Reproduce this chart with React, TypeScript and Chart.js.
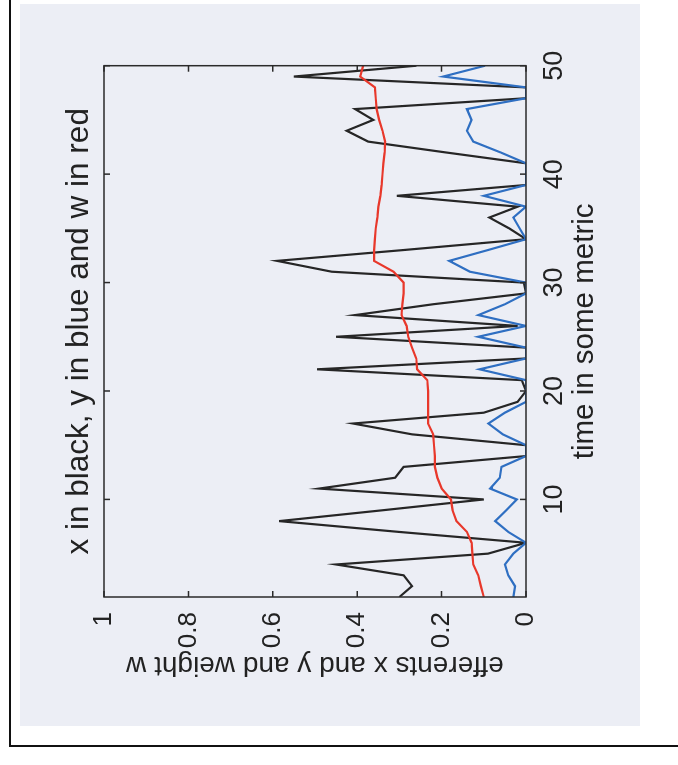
import React, { useEffect, useRef } from "react";
import { Chart, registerables } from "chart.js";

Chart.register(...registerables);

const timeSteps = [
  1, 2, 3, 4, 5, 6, 7, 8, 9, 10,
  11, 12, 13, 14, 15, 16, 17, 18, 19, 20,
  21, 22, 23, 24, 25, 26, 27, 28, 29, 30,
  31, 32, 33, 34, 35, 36, 37, 38, 39, 40,
  41, 42, 43, 44, 45, 46, 47, 48, 49, 50,
];

// x (black)
const xBlack = [
  0.30, 0.27, 0.29, 0.45, 0.09, 0.0, 0.30, 0.585, 0.34, 0.10,
  0.49, 0.31, 0.29, 0.0, 0.0, 0.27, 0.41, 0.10, 0.02, 0.0,
  0.01, 0.495, 0.0, 0.0, 0.45, 0.02, 0.405, 0.22, 0.0, 0.005,
  0.46, 0.59, 0.29, 0.0, 0.04, 0.087, 0.02, 0.306, 0.0, 0.0,
  0.0, 0.19, 0.374, 0.425, 0.362, 0.405, 0.0, 0.0, 0.55, 0.26,
];

// y (blue)
const yBlue = [
  0.03, 0.026, 0.042, 0.05, 0.03, 0.0, 0.042, 0.073, 0.047, 0.022,
  0.085, 0.062, 0.058, 0.0, 0.0, 0.055, 0.089, 0.05, 0.0, 0.0,
  0.0, 0.11, 0.0, 0.0, 0.113, 0.0, 0.113, 0.05, 0.0, 0.0,
  0.133, 0.182, 0.09, 0.0, 0.015, 0.03, 0.0, 0.1, 0.0, 0.0,
  0.0, 0.06, 0.125, 0.14, 0.129, 0.14, 0.0, 0.0, 0.196, 0.097,
];

// w (red)
const wRed = [
  0.10, 0.107, 0.113, 0.125, 0.127, 0.129, 0.14, 0.165, 0.174, 0.178,
  0.20, 0.21, 0.216, 0.216, 0.218, 0.22, 0.232, 0.232, 0.232, 0.232,
  0.234, 0.258, 0.26, 0.27, 0.279, 0.283, 0.295, 0.293, 0.29, 0.29,
  0.314, 0.36, 0.36, 0.358, 0.356, 0.352, 0.35, 0.345, 0.342, 0.34,
  0.338, 0.335, 0.334, 0.34, 0.348, 0.354, 0.356, 0.358, 0.393, 0.386,
];

const timeTicks = [10, 20, 30, 40, 50];
const valueTicks = [0, 0.2, 0.4, 0.6, 0.8, 1];

const FONT = "'Liberation Sans', Arial, Helvetica, sans-serif";
const TEXT = "#222222";

const boxPlugin = {
  id: "matlabBox",
  afterDatasetsDraw(chart: any) {
    const { ctx, chartArea: a, scales } = chart;
    ctx.save();
    ctx.strokeStyle = "#2a2a2a";
    ctx.lineWidth = 1.5;
    ctx.strokeRect(a.left, a.top, a.right - a.left, a.bottom - a.top);
    const len = 6;
    ctx.beginPath();
    for (const v of timeTicks) {
      const p = scales.x.getPixelForValue(v);
      ctx.moveTo(p, a.bottom);
      ctx.lineTo(p, a.bottom - len);
      ctx.moveTo(p, a.top);
      ctx.lineTo(p, a.top + len);
    }
    for (const v of valueTicks) {
      const p = scales.y.getPixelForValue(v);
      ctx.moveTo(a.left, p);
      ctx.lineTo(a.left + len, p);
      ctx.moveTo(a.right, p);
      ctx.lineTo(a.right - len, p);
    }
    ctx.stroke();
    ctx.restore();
  },
};

const W = 765;
const H = 678;

export default function App() {
  const ref = useRef<HTMLCanvasElement | null>(null);

  useEffect(() => {
    if (!ref.current) return;
    const mk = (vals: number[]) => timeSteps.map((t, i) => ({ x: t, y: vals[i] }));
    const chart = new Chart(ref.current, {
      type: "line",
      data: {
        datasets: [
          { label: "w", data: mk(wRed), borderColor: "#e8382b", borderWidth: 2.2, pointRadius: 0, tension: 0, fill: false },
          { label: "y", data: mk(yBlue), borderColor: "#2f6fc2", borderWidth: 2.2, pointRadius: 0, tension: 0, fill: false },
          { label: "x", data: mk(xBlack), borderColor: "#262626", borderWidth: 2.2, pointRadius: 0, tension: 0, fill: false },
        ],
      },
      options: {
        animation: false,
        responsive: false,
        devicePixelRatio: 1,
        layout: { padding: { left: 0, right: 65.7, top: 0, bottom: 0 } },
        plugins: {
          legend: { display: false },
          tooltip: { enabled: false },
          title: {
            display: true,
            text: "x in black, y in blue and w in red",
            fullSize: false,
            color: TEXT,
            font: { family: FONT, size: 31.5, weight: "normal" },
            padding: { top: 60, bottom: 6.2 },
          },
        },
        scales: {
          x: {
            type: "linear",
            min: 1,
            max: 50,
            grid: { display: false, drawTicks: false },
            border: { display: false },
            afterBuildTicks: (s: any) => {
              s.ticks = timeTicks.map((v) => ({ value: v }));
            },
            afterFit: (s: any) => {
              s.height = 152;
            },
            ticks: {
              padding: 12.5,
              color: TEXT,
              autoSkip: false,
              maxRotation: 0,
              font: { family: FONT, size: 27 },
            },
            title: {
              display: true,
              text: "time in some metric",
              color: TEXT,
              font: { family: FONT, size: 29.5 },
              padding: { top: 0, bottom: 75.6 },
            },
          },
          y: {
            type: "linear",
            min: 0,
            max: 1,
            grid: { display: false, drawTicks: false },
            border: { display: false },
            afterBuildTicks: (s: any) => {
              s.ticks = valueTicks.map((v) => ({ value: v }));
            },
            afterFit: (s: any) => {
              s.width = 168;
            },
            ticks: {
              padding: 15,
              color: TEXT,
              font: { family: FONT, size: 26 },
              callback: (v: any) => Number(Number(v).toFixed(1)).toString(),
            },
            title: {
              display: true,
              text: "efferents x and y and weight w",
              color: TEXT,
              font: { family: FONT, size: 28 },
              padding: { top: 83.7, bottom: 0 },
            },
          },
        },
      },
      plugins: [boxPlugin],
    } as any);
    return () => chart.destroy();
  }, []);

  return (
    <div style={{ position: "fixed", left: 0, top: 0, width: 678, height: 765, background: "#ffffff", overflow: "hidden" }}>
      <div style={{ position: "absolute", left: 20, top: 4, width: 620, height: 722, background: "#eceef5" }} />
      <div style={{ position: "absolute", left: 9, top: 0, width: 2, height: 747, background: "#111" }} />
      <div style={{ position: "absolute", left: 9, top: 745, width: 669, height: 2, background: "#111" }} />
      <div
        style={{
          position: "absolute",
          left: 0,
          top: 0,
          width: W,
          height: H,
          transformOrigin: "0 0",
          transform: `translate(0px, ${W}px) rotate(-90deg)`,
        }}
      >
        <canvas ref={ref} width={W} height={H} style={{ display: "block", width: W, height: H }} />
      </div>
    </div>
  );
}
